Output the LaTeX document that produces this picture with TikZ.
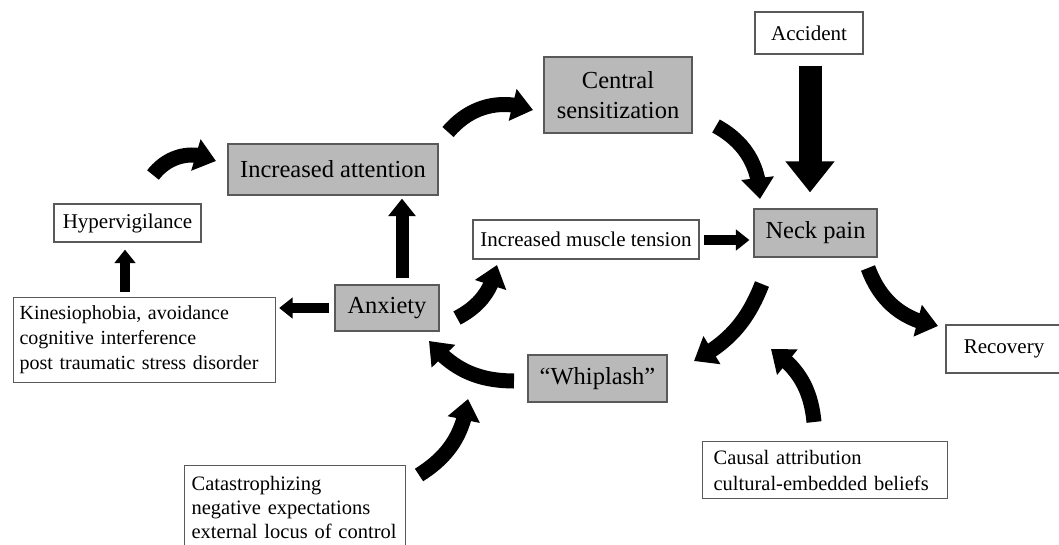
\documentclass[tikz,border=0pt]{standalone}
\usepackage{fontspec}
\setmainfont{Liberation Serif}
\usetikzlibrary{arrows.meta,bending}

\begin{document}
\begin{tikzpicture}[
    x=1pt, y=-1pt,
    box/.style = {rectangle, draw=black!65, line width=1.2pt, fill=white,
                  inner sep=0pt, align=center,
                  font=\fontsize{21}{25}\selectfont},
    core/.style = {box, fill=gray!55, font=\fontsize{24.5}{30}\selectfont},
    notes/.style = {box, align=left, anchor=north west},
    push/.style = {line width=#1, -{Triangle[length=0pt 1.35, width=0pt 2.05]}},
    push/.default = 10pt,
    bent/.style = {line width=15pt, -{Triangle[length=0pt 1.4, width=0pt 2.1]}}
  ]
    \useasboundingbox (0,0) rectangle (1059,544);

    % boxes
    \node[box, minimum width=108pt, minimum height=42pt] (acc) at (809,33) {Accident};
    \node[core, minimum width=148pt, minimum height=76pt] (cs) at (618,95) {Central\\sensitization};
    \node[core, minimum width=210pt, minimum height=51pt] (att) at (333,169.5) {Increased attention};
    \node[box, minimum width=147pt, minimum height=38pt] (hyp) at (127.5,223) {Hypervigilance};
    \node[box, minimum width=226pt, minimum height=39pt] (mus) at (586,239.5) {Increased muscle tension};
    \node[core, minimum width=123pt, minimum height=48pt] (neck) at (815.5,233) {Neck pain};
    \node[core, minimum width=104pt, minimum height=46pt] (anx) at (387,308) {Anxiety};
    \node[core, minimum width=139pt, minimum height=47pt] (whip) at (597.5,378.5) {“Whiplash”};
    \node[box, minimum width=116pt, minimum height=48pt] (rec) at (1004,349) {Recovery};
    \node[notes, font=\fontsize{20}{25}\selectfont, text width=250pt, inner xsep=6pt,
          minimum height=85pt] (kin) at (13,297)
        {Kinesiophobia, avoidance\\cognitive interference\\post traumatic stress disorder};
    \node[notes, font=\fontsize{20.5}{26}\selectfont, text width=223pt, inner xsep=11pt,
          minimum height=57pt] (cau) at (702,441)
        {Causal attribution\\cultural-embedded beliefs};
    \node[notes, font=\fontsize{20.5}{24}\selectfont, text width=207pt, inner xsep=7pt,
          inner ysep=11pt] (cat) at (184,465)
        {Catastrophizing\\negative expectations\\external locus of control};

    % lanes of the straight arrows
    \coordinate (lk) at (125,0);
    \coordinate (la) at (402,0);
    \coordinate (lc) at (810,0);
    \coordinate (lm) at (0,240);
    \coordinate (lx) at (0,308);

    \draw[push, shorten <=5pt, shorten >=7pt] (kin.north -| lk) -- (hyp.south -| lk);
    \draw[push=13pt, shorten <=6pt, shorten >=3pt] (anx.north -| la) -- (att.south -| la);
    \draw[push, shorten <=5pt, shorten >=3pt] (anx.west |- lx) -- (kin.east |- lx);
    \draw[push, shorten <=4pt, shorten >=4pt] (mus.east |- lm) -- (neck.west |- lm);
    \draw[push=23pt, shorten <=11pt, shorten >=16pt] (acc.south -| lc) -- (neck.north -| lc);

    % ends of the curved arrows
    \coordinate (a1) at (153,175);  \coordinate (b1) at (216,161);
    \coordinate (a2) at (448,132);  \coordinate (b2) at (533,110);
    \coordinate (a3) at (716,126);  \coordinate (b3) at (760,199);
    \coordinate (a4) at (762,284);  \coordinate (b4) at (694,361);
    \coordinate (a5) at (814,422);  \coordinate (b5) at (771,349);
    \coordinate (a6) at (868,268);  \coordinate (b6) at (938,326);
    \coordinate (a7) at (457,318);  \coordinate (b7) at (497,265);
    \coordinate (a8) at (514,381);  \coordinate (b8) at (429,341);
    \coordinate (a9) at (419,475);  \coordinate (b9) at (468,399);

    \draw[bent] (a1) to[bend left=40] (b1);
    \draw[bent] (a2) to[bend left=35] (b2);
    \draw[bent] (a3) to[bend left=30] (b3);
    \draw[bent] (a4) to[bend left=20] (b4);
    \draw[bent] (a5) to[bend right=25] (b5);
    \draw[bent] (a6) to[bend right=30] (b6);
    \draw[bent] (a7) to[bend right=25] (b7);
    \draw[bent] (a8) to[bend left=25] (b8);
    \draw[bent] (a9) to[bend right=25] (b9);
\end{tikzpicture}
\end{document}
